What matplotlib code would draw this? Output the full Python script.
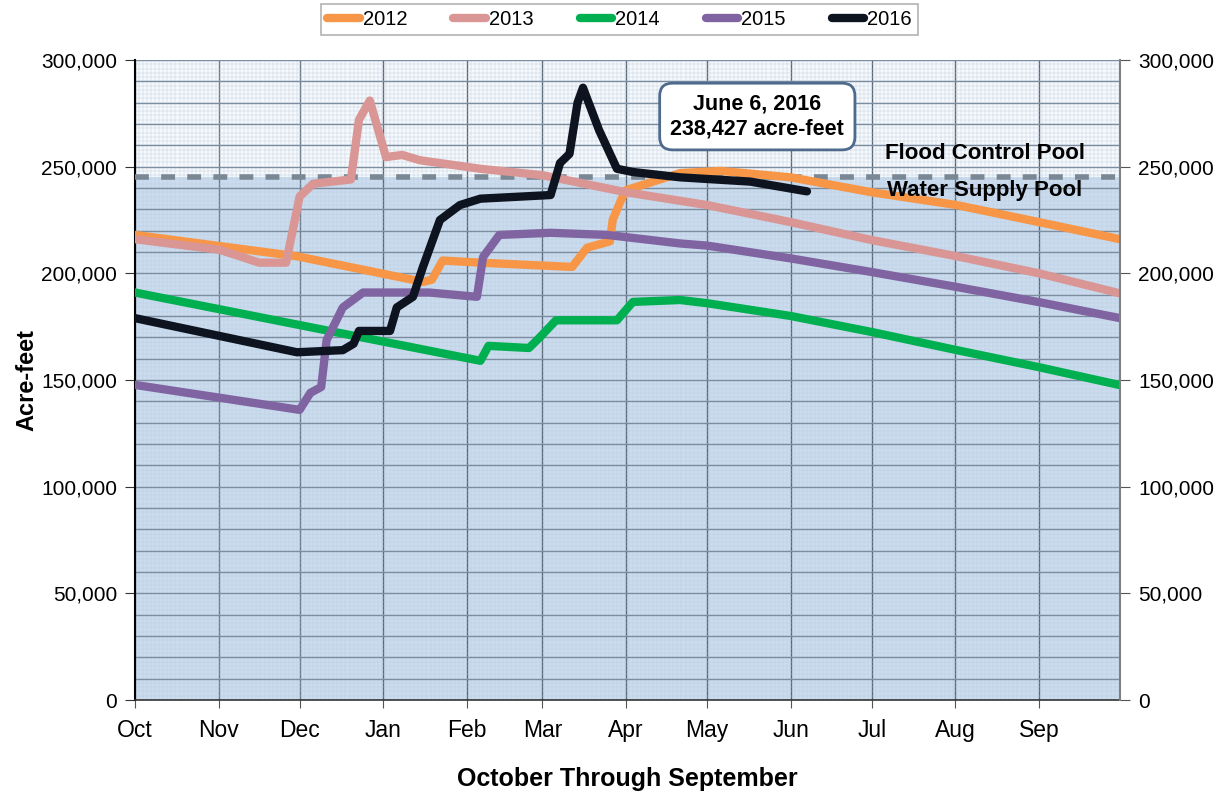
import matplotlib
matplotlib.use('Agg')
import matplotlib.pyplot as plt
from matplotlib.ticker import MultipleLocator, FuncFormatter, FixedLocator

plt.rcParams['font.family'] = ['Liberation Sans', 'DejaVu Sans']

# day of water year (0 = Oct 1) and storage in thousand acre-feet
days_2012 = [0, 60, 106.7, 110, 114, 128, 162, 167.5, 176, 177, 180, 182, 194.5, 202, 217, 243, 273, 304.5, 335, 365]
vals_2012 = [218, 208, 196, 197, 206, 205, 203, 212, 215, 225, 234, 239, 244, 247, 248, 245, 238, 232, 224, 216]

days_2013 = [0, 31.5, 46, 56, 61, 66, 80, 83, 87, 93, 99, 105.6, 128, 151, 182, 212, 243, 273, 304.5, 335, 365]
vals_2013 = [216, 211, 205, 205, 236, 242, 244, 272, 281, 254.5, 255.5, 253, 249, 246, 238, 232, 224, 215.6, 208, 200, 190.6]

days_2014 = [0, 128, 131, 146, 150, 156, 178.6, 184.5, 202, 212, 243, 273, 304.5, 335, 365]
vals_2014 = [191, 159, 166, 165, 170, 178, 178, 186.6, 187.5, 186, 180, 172.5, 164, 156, 147.6]

days_2015 = [0, 61, 65, 69, 71, 77, 84.5, 109, 126.7, 129, 135, 154, 175, 202, 212, 243, 273, 304.5, 335, 365]
vals_2015 = [147.7, 136, 144, 146.7, 168.7, 184, 191, 191, 189, 207.7, 218, 219, 218, 214, 213, 207, 200.6, 193.6, 186.5, 179]

days_2016 = [0, 60, 77, 81, 83, 94.5, 97, 103, 106.7, 113, 120.4, 128, 154, 157.5, 161, 164, 166, 172, 178.6, 184.5, 202, 228, 249]
vals_2016 = [179, 163, 164, 167, 173, 173, 184, 189, 203, 225, 232, 235, 236.7, 251.7, 256, 280, 287, 267, 249, 247.5, 245, 243, 238.427]

month_days = [0, 31, 61, 92, 123, 151, 182, 212, 243, 273, 304, 335]
month_labels = ['Oct', 'Nov', 'Dec', 'Jan', 'Feb', 'Mar', 'Apr', 'May', 'Jun', 'Jul', 'Aug', 'Sep']

pool_level = 245000

series = [
    ('2012', days_2012, vals_2012, '#f79646'),
    ('2013', days_2013, vals_2013, '#d99694'),
    ('2014', days_2014, vals_2014, '#00b050'),
    ('2015', days_2015, vals_2015, '#8064a2'),
    ('2016', days_2016, vals_2016, '#0d1420'),
]

fig = plt.figure(figsize=(12.28, 7.93), dpi=100)
ax = fig.add_axes([135 / 1228, 1 - 700 / 793, 985 / 1228, 640 / 793])

ax.set_xlim(0, 365)
ax.set_ylim(0, 300000)

# background: water supply pool shaded, flood pool pale
ax.axhspan(0, pool_level, color='#cbdcef', zorder=0, lw=0)
ax.axhspan(pool_level, 300000, color='#f6f9fc', zorder=0, lw=0)

ax.set_axisbelow(True)
ax.xaxis.set_major_locator(FixedLocator(month_days))
ax.xaxis.set_minor_locator(MultipleLocator(1.5))
ax.yaxis.set_major_locator(MultipleLocator(50000))
ax.yaxis.set_minor_locator(MultipleLocator(2000))
ax.grid(which='minor', color='#b8cade', lw=0.3)
ax.grid(which='major', axis='x', color='#5a6878', lw=1.0)
# horizontal major grid every 10,000
for v in range(10000, 300001, 10000):
    ax.axhline(v, color='#7d8da0', lw=1.0, zorder=0.6)

ax.set_xticks(month_days)
ax.set_xticklabels(month_labels)
ax.tick_params(axis='x', which='minor', length=0)
ax.tick_params(axis='y', which='minor', length=0)
ax.tick_params(axis='x', which='major', labelsize=16.5, length=6, color='#555555', pad=8)
ax.tick_params(axis='y', which='major', labelsize=15, length=7, color='#333333', pad=6)
ax.yaxis.set_major_formatter(FuncFormatter(lambda v, p: f'{int(v):,}'))

for s in ['top', 'right']:
    ax.spines[s].set_visible(False)
ax.spines['left'].set_color('black')
ax.spines['left'].set_linewidth(1.5)
ax.spines['bottom'].set_color('#333333')
ax.spines['bottom'].set_linewidth(1.2)

ax.axhline(pool_level, color='#7a8896', lw=4, ls=(0, (2.5, 2.2)), zorder=3)

handles = []
for name, d, v, c in series:
    line, = ax.plot(d, [x * 1000 for x in v], color=c, lw=6, solid_capstyle='round',
                    solid_joinstyle='round', label=name, zorder=4)
    handles.append(line)

ax.set_xlabel('October Through September', fontsize=18, fontweight='bold', labelpad=18)
ax.set_ylabel('Acre-feet', fontsize=17, fontweight='bold', labelpad=2)

ax2 = ax.twinx()
ax2.set_ylim(ax.get_ylim())
ax2.yaxis.set_major_locator(MultipleLocator(50000))
ax2.yaxis.set_major_formatter(FuncFormatter(lambda v, p: f'{int(v):,}'))
ax2.tick_params(axis='y', labelsize=15, length=7, color='#555555', pad=6)
for s in ['top', 'left', 'bottom']:
    ax2.spines[s].set_visible(False)
ax2.spines['right'].set_color('#808080')
ax2.spines['right'].set_linewidth(1.5)

ax.text(230.6, 273500, 'June 6, 2016\n238,427 acre-feet', ha='center', va='center',
        fontsize=15.5, fontweight='bold', linespacing=1.2, zorder=6,
        bbox=dict(boxstyle='round,pad=0.5,rounding_size=0.6', fc='white', ec='#4e6a8c', lw=2))
ax.text(315, 256400, 'Flood Control Pool', ha='center', va='center', fontsize=16, fontweight='bold', zorder=6)
ax.text(315, 239000, 'Water Supply Pool', ha='center', va='center', fontsize=16, fontweight='bold', zorder=6)

leg = ax.legend(handles=handles, ncol=5, loc='center', bbox_to_anchor=(0.492, 1.063),
                frameon=True, fancybox=False, fontsize=14.5, handlelength=1.6, handletextpad=0.15,
                columnspacing=2.3, borderpad=0.3)
leg.get_frame().set_edgecolor('#a0a0a0')
leg.get_frame().set_linewidth(1.2)

plt.savefig('out.png', dpi=100)
plt.close()
